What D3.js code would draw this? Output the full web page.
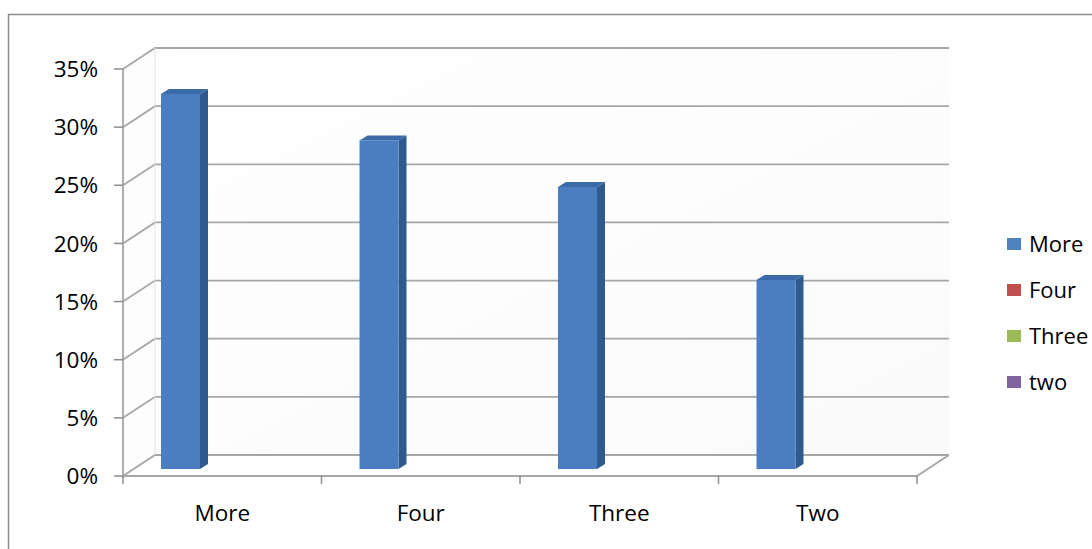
<!DOCTYPE html>
<html>
<head>
<meta charset="utf-8">
<script src="https://cdn.jsdelivr.net/npm/d3@7"></script>
<style>
  body { margin: 0; background: #fff; }
  text { font-family: "Open Sans", sans-serif; fill: #000; }
</style>
</head>
<body>
<div id="chart"></div>
<script>
// chart data
var categories = ["More", "Four", "Three", "Two"];
var values = [0.32, 0.28, 0.24, 0.16];
var legendNames = ["More", "Four", "Three", "two"];
var legendColors = ["#4f81bd", "#c0504d", "#9bbb59", "#8064a2"];
var yTicks = [0, 0.05, 0.10, 0.15, 0.20, 0.25, 0.30, 0.35];

const width = 1092;
const height = 549;

// depth offset of the back wall
var dx = 32, dy = -21;

var svg = d3.select("#chart").append("svg")
    .attr("width", width)
    .attr("height", height);

// outer chart border
svg.append("rect")
    .attr("x", 8.5).attr("y", 14.5)
    .attr("width", 1100).attr("height", 560)
    .attr("fill", "#fff")
    .attr("stroke", "#8c8c8c")
    .attr("stroke-width", 1.5);

var x = d3.scaleBand().domain(categories).range([123, 917]).padding(0);
var y = d3.scaleLinear().domain([0, 0.35]).range([476, 69]);

var defs = svg.append("defs");
var wallGrad = defs.append("linearGradient").attr("id", "wall")
    .attr("x1", 0).attr("y1", 0).attr("x2", 1).attr("y2", 1);
wallGrad.append("stop").attr("offset", "0%").attr("stop-color", "#ffffff");
wallGrad.append("stop").attr("offset", "100%").attr("stop-color", "#fafafa");

var x0 = x.range()[0], x1 = x.range()[1];
var yTop = y(0.35), yBot = y(0);

// back wall
svg.append("rect")
    .attr("x", x0 + dx).attr("y", yTop + dy)
    .attr("width", x1 - x0).attr("height", yBot - yTop)
    .attr("fill", "url(#wall)");

// left wall
svg.append("path")
    .attr("d", `M${x0},${yTop}L${x0 + dx},${yTop + dy}L${x0 + dx},${yBot + dy}L${x0},${yBot}Z`)
    .attr("fill", "#fdfdfd");

// gridlines: diagonal on left wall + horizontal on back wall
var grid = svg.append("g");
yTicks.forEach(function(t) {
    var yy = y(t);
    grid.append("path")
        .attr("d", `M${x0},${yy}L${x0 + dx},${yy + dy}L${x1 + dx},${yy + dy}`)
        .attr("fill", "none")
        .attr("stroke", "#a6a6a6")
        .attr("stroke-width", 1.8);
});

// floor outline
svg.append("path")
    .attr("d", `M${x0},${yBot}L${x1},${yBot}L${x1 + dx},${yBot + dy}`)
    .attr("fill", "none")
    .attr("stroke", "#a6a6a6")
    .attr("stroke-width", 1.8);

// back-left vertical edge
svg.append("line")
    .attr("x1", x0 + dx).attr("y1", yTop + dy)
    .attr("x2", x0 + dx).attr("y2", yBot + dy)
    .attr("stroke", "#e2e2e2").attr("stroke-width", 1);

// y axis
svg.append("line")
    .attr("x1", x0).attr("y1", yTop).attr("x2", x0).attr("y2", yBot + 2)
    .attr("stroke", "#a6a6a6").attr("stroke-width", 1.8);

var yAxis = svg.append("g");
yTicks.forEach(function(t) {
    yAxis.append("line")
        .attr("x1", x0 - 9).attr("x2", x0)
        .attr("y1", y(t)).attr("y2", y(t))
        .attr("stroke", "#8c8c8c").attr("stroke-width", 1.5);
    yAxis.append("text")
        .attr("x", 98).attr("y", y(t))
        .attr("dy", "0.36em")
        .attr("text-anchor", "end")
        .style("font-size", "22.5px")
        .text(d3.format(".0%")(t));
});

// category ticks
var xTickPos = categories.map(c => x(c)).concat([x1]);
xTickPos.forEach(function(p) {
    svg.append("line")
        .attr("x1", p).attr("x2", p)
        .attr("y1", yBot).attr("y2", yBot + 8)
        .attr("stroke", "#8c8c8c").attr("stroke-width", 1.5);
});

// category labels
svg.selectAll(".xlab")
    .data(categories)
    .enter().append("text")
    .attr("class", "xlab")
    .attr("x", d => x(d) + x.bandwidth() / 2)
    .attr("y", 521)
    .attr("text-anchor", "middle")
    .style("font-size", "22.5px")
    .text(d => d);

// bars (3D columns)
var barOff = 38, barW = 39, depth = 8, rise = 5;
var bars = svg.selectAll(".bar")
    .data(categories.map((c, i) => ({cat: c, v: values[i]})))
    .enter().append("g").attr("class", "bar");

bars.each(function(d) {
    var g = d3.select(this);
    var bx = x(d.cat) + barOff;
    var yt = y(d.v) - 10;
    var yb = y(0) - 7;
    // side face
    g.append("path")
        .attr("d", `M${bx + barW},${yt}L${bx + barW + depth},${yt - rise}L${bx + barW + depth},${yb - rise}L${bx + barW},${yb}Z`)
        .attr("fill", "#2f5a8e");
    // top face
    g.append("path")
        .attr("d", `M${bx},${yt}L${bx + depth},${yt - rise}L${bx + barW + depth},${yt - rise}L${bx + barW},${yt}Z`)
        .attr("fill", "#3b6aa6");
    // front face
    g.append("rect")
        .attr("x", bx).attr("y", yt)
        .attr("width", barW).attr("height", yb - yt)
        .attr("fill", "#4a7ec0");
});

// legend
var legend = svg.append("g");
legendNames.forEach(function(n, i) {
    var ly = 244 + i * 46;
    legend.append("rect")
        .attr("x", 1007).attr("y", ly - 6)
        .attr("width", 14).attr("height", 12)
        .attr("fill", legendColors[i]);
    legend.append("text")
        .attr("x", 1029).attr("y", ly)
        .attr("dy", "0.36em")
        .style("font-size", "22px")
        .text(n);
});
</script>
</body>
</html>
